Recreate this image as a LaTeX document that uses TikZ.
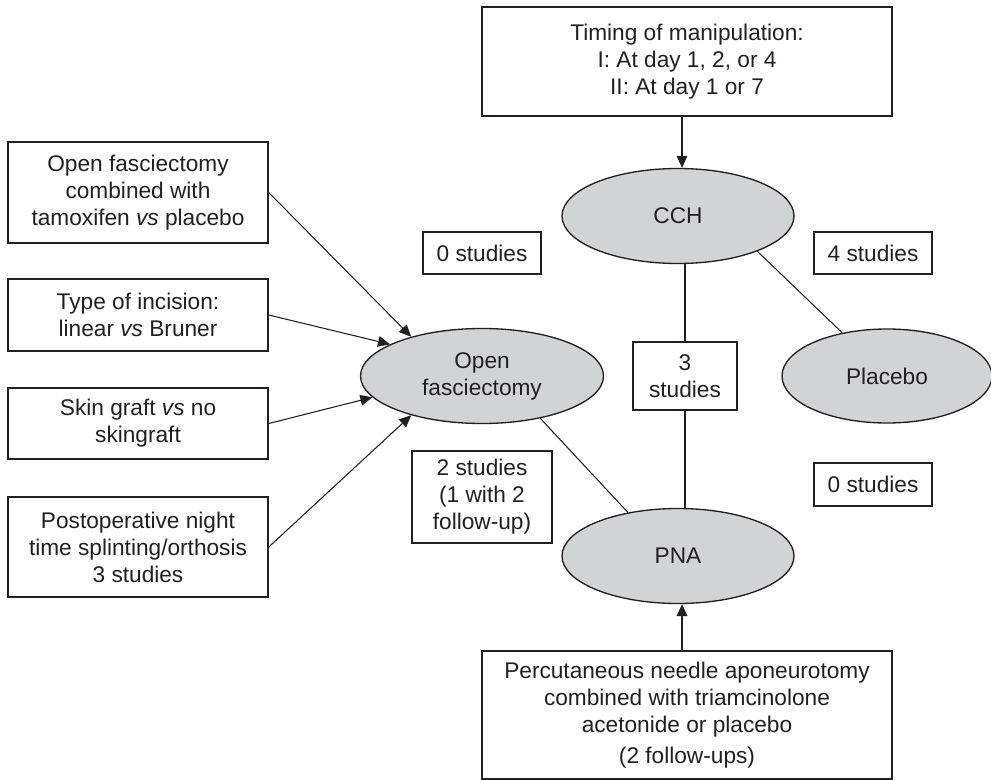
\documentclass[tikz,border=0pt]{standalone}
\usepackage{fontspec}
\setmainfont{Liberation Sans}
\usetikzlibrary{shapes.geometric,arrows.meta}
\definecolor{ellfill}{RGB}{209,211,212}
\definecolor{ink}{RGB}{35,31,32}
\tikzset{
  base/.style={inner sep=0pt, align=center, text=ink, font=\fontsize{17}{20.25}\selectfont},
  box/.style={base, draw=ink, line width=1.1pt, rectangle},
  ell/.style={base, draw=ink, line width=1pt, ellipse, fill=ellfill},
  con/.style={draw=ink, line width=0.8pt},
  arr/.style={con, -{Triangle[length=9pt,width=8pt]}},
}
\begin{document}
\begin{tikzpicture}[x=0.75pt,y=-0.75pt]
\useasboundingbox (0,0) rectangle (991,780);
% boxes
\node[box, minimum width=307.5pt, minimum height=81.75pt] (top) at (687,61.5)
  {Timing of manipulation:\\I: At day 1, 2, or 4\\II: At day 1 or 7};
\node[box, minimum width=307.5pt, minimum height=96pt] (bot) at (687,715)
  {Percutaneous needle aponeurotomy\\combined with triamcinolone\\acetonide or placebo\\[3pt](2 follow-ups)};
\node[box, minimum width=195pt, minimum height=75.75pt] (b1) at (138,192.5)
  {Open fasciectomy\\combined with\\tamoxifen \textit{vs} placebo};
\node[box, minimum width=195pt, minimum height=54pt] (b2) at (138,315)
  {Type of incision:\\linear \textit{vs} Bruner};
\node[box, minimum width=195pt, minimum height=53.25pt] (b3) at (138,423.5)
  {Skin graft \textit{vs} no\\skingraft};
\node[box, minimum width=195pt, minimum height=75pt] (b4) at (138,547)
  {Postoperative night\\time splinting/orthosis\\3 studies};
\node[box, minimum width=88.5pt, minimum height=31.5pt] (s0a) at (482,253) {0 studies};
\node[box, minimum width=88.5pt, minimum height=31.5pt] (s4) at (873,253) {4 studies};
\node[box, minimum width=88.5pt, minimum height=32.25pt] (s0b) at (873,484.5) {0 studies};
\node[box, minimum width=78pt, minimum height=51pt] (s3) at (685,376) {3\\studies};
\node[box, minimum width=105pt, minimum height=69pt] (s2) at (482,497) {2 studies\\(1 with 2\\follow-up)};
% ellipses
\node[ell, minimum width=174pt, minimum height=71.25pt] (cch) at (678,216) {CCH};
\node[ell, minimum width=182.25pt, minimum height=71.25pt] (of) at (482,376) {Open\\fasciectomy};
\node[ell, minimum width=174pt, minimum height=71.25pt] (pna) at (678,556) {PNA};
\node[ell, minimum width=157.5pt, minimum height=70.5pt] (pl) at (887,376) {Placebo};
% connectors
\draw[arr] ([xshift=-3.75pt]top.south) -- ([xshift=3pt]cch.north);
\draw[arr] ([xshift=-3.75pt]bot.north) -- ([xshift=3pt]pna.south);
\draw[con] (cch.south -| s3.north) -- (s3.north);
\draw[con] (s3.south) -- (s3.south |- pna.north);
\draw[con] (cch.-24.5) -- (pl.136.9);
\draw[con] (of.-36.4) -- (pna.139.3);
\draw[arr] (b1.east) -- (of.151.3);
\draw[arr] (b2.east) -- (of.161.9);
\draw[arr] (b3.east) -- (of.-169.4);
\draw[arr] (b4.east) -- (of.-151.6);
\end{tikzpicture}
\end{document}
